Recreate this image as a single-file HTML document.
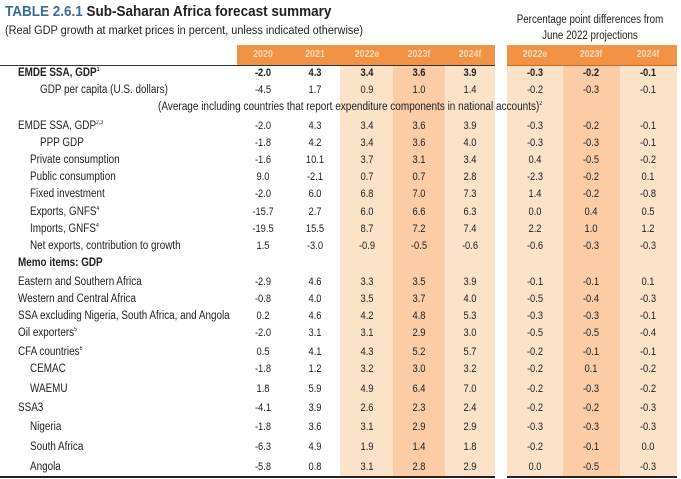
<!DOCTYPE html><html><head><style>
body{margin:0;width:681px;height:479px;background:#fff;position:relative;overflow:hidden;font-family:"Liberation Sans",sans-serif;color:#222}
.a{position:absolute;white-space:nowrap}
.s{display:inline-block;transform:scaleX(.86);transform-origin:left center}
.n{position:absolute;width:50px;text-align:center;font-size:11px;transform:scaleX(.85)}
.b{font-weight:bold}
.sup{font-size:6px;vertical-align:super}
</style></head><body>
<div class="a" style="left:5px;top:3px;font-size:15px;font-weight:bold"><span class="s" style="transform:scaleX(.9)"><span style="color:#3b6e9c">TABLE 2.6.1</span> Sub-Saharan Africa forecast summary</span></div>
<div class="a" style="left:5px;top:25px;font-size:11.5px"><span class="s" style="transform:scaleX(.95)">(Real GDP growth at market prices in percent, unless indicated otherwise)</span></div>
<div class="a" style="left:500px;width:180px;top:12px;font-size:11.5px;text-align:center;line-height:16px;transform:scaleX(.85)">Percentage point differences from<br>June 2022 projections</div>
<div class="a" style="left:237px;top:45px;width:258px;height:20px;background:#f19245"></div>
<div class="a" style="left:507px;top:45px;width:170px;height:20px;background:#f19245"></div>
<div class="a" style="left:340px;top:65px;width:53px;height:411px;background:#fde2ca"></div>
<div class="a" style="left:393px;top:65px;width:52px;height:411px;background:#fbcca5"></div>
<div class="a" style="left:445px;top:65px;width:50px;height:411px;background:#fde2ca"></div>
<div class="a" style="left:507px;top:65px;width:56px;height:411px;background:#fde2ca"></div>
<div class="a" style="left:563px;top:65px;width:57px;height:411px;background:#fbcca5"></div>
<div class="a" style="left:620px;top:65px;width:57px;height:411px;background:#fde2ca"></div>
<div class="a" style="left:0;top:65px;width:495px;height:1px;background:#333"></div>
<div class="a" style="left:507px;top:65px;width:170px;height:1px;background:#c96a24"></div>
<div class="a" style="left:0;top:476px;width:495px;height:2px;background:#222"></div>
<div class="a" style="left:507px;top:476px;width:170px;height:2px;background:#222"></div>
<div id="c"></div>
<script>
var H=[["2020",263],["2021",315],["2022e",367],["2023f",419],["2024f",470],["2022e",535],["2023f",591],["2024f",648]];
var o="";H.forEach(function(h){o+='<div class="n" style="left:'+(h[1]-25)+'px;top:48px;color:#fcd8b8;font-weight:bold;font-size:10.5px">'+h[0]+'</div>';});
var R=[
[73,18,"EMDE SSA, GDP<span class=sup>1</span>","-2.0 4.3 3.4 3.6 3.9 -0.3 -0.2 -0.1",1],
[90,40,"GDP per capita (U.S. dollars)","-4.5 1.7 0.9 1.0 1.4 -0.2 -0.3 -0.1"],
[126,18,"EMDE SSA, GDP<span class=sup>2,3</span>","-2.0 4.3 3.4 3.6 3.9 -0.3 -0.2 -0.1"],
[143,40,"PPP GDP","-1.8 4.2 3.4 3.6 4.0 -0.3 -0.3 -0.1"],
[160,30,"Private consumption","-1.6 10.1 3.7 3.1 3.4 0.4 -0.5 -0.2"],
[177,30,"Public consumption","9.0 -2.1 0.7 0.7 2.8 -2.3 -0.2 0.1"],
[194,30,"Fixed investment","-2.0 6.0 6.8 7.0 7.3 1.4 -0.2 -0.8"],
[212,30,"Exports, GNFS<span class=sup>4</span>","-15.7 2.7 6.0 6.6 6.3 0.0 0.4 0.5"],
[229,30,"Imports, GNFS<span class=sup>4</span>","-19.5 15.5 8.7 7.2 7.4 2.2 1.0 1.2"],
[246,30,"Net exports, contribution to growth","1.5 -3.0 -0.9 -0.5 -0.6 -0.6 -0.3 -0.3"],
[263,18,"<b>Memo items: GDP</b>",""],
[282,18,"Eastern and Southern Africa","-2.9 4.6 3.3 3.5 3.9 -0.1 -0.1 0.1"],
[299,18,"Western and Central Africa","-0.8 4.0 3.5 3.7 4.0 -0.5 -0.4 -0.3"],
[316,18,"SSA excluding Nigeria, South Africa, and Angola","0.2 4.6 4.2 4.8 5.3 -0.3 -0.3 -0.1"],
[333,18,"Oil exporters<span class=sup>5</span>","-2.0 3.1 3.1 2.9 3.0 -0.5 -0.5 -0.4"],
[352,18,"CFA countries<span class=sup>6</span>","0.5 4.1 4.3 5.2 5.7 -0.2 -0.1 -0.1"],
[369,30,"CEMAC","-1.8 1.2 3.2 3.0 3.2 -0.2 0.1 -0.2"],
[389,30,"WAEMU","1.8 5.9 4.9 6.4 7.0 -0.2 -0.3 -0.2"],
[408,18,"SSA3","-4.1 3.9 2.6 2.3 2.4 -0.2 -0.2 -0.3"],
[427,30,"Nigeria","-1.8 3.6 3.1 2.9 2.9 -0.3 -0.3 -0.3"],
[447,30,"South Africa","-6.3 4.9 1.9 1.4 1.8 -0.2 -0.1 0.0"],
[467,30,"Angola","-5.8 0.8 3.1 2.8 2.9 0.0 -0.5 -0.3"]];
R.forEach(function(r){var b=r[4]?' b':'';
o+='<div class="a'+b+'" style="left:'+r[1]+'px;top:'+(r[0]-6)+'px;font-size:11.5px"><span class="s">'+r[2]+'</span></div>';
if(r[3])r[3].split(" ").forEach(function(v,i){o+='<div class="n'+b+'" style="left:'+(H[i][1]-25)+'px;top:'+(r[0]-6)+'px">'+v+'</div>';});});
o+='<div class="a" style="left:158px;top:101px;font-size:11.5px"><span class="s" style="transform:scaleX(.87)">(Average including countries that report expenditure components in national accounts)<span class=sup>2</span></span></div>';
document.getElementById("c").innerHTML=o;
</script>
</body></html>
